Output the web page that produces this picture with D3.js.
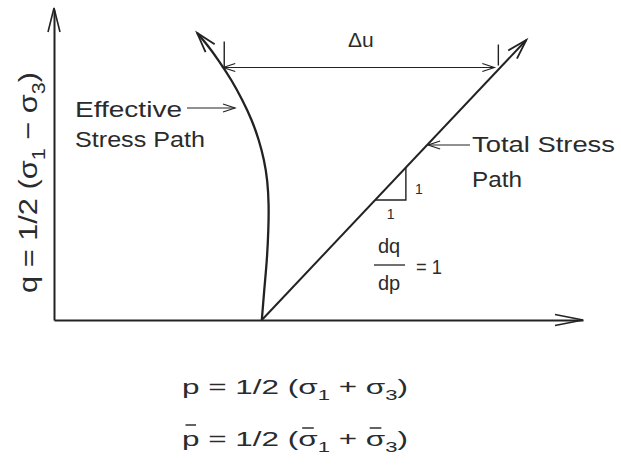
<!DOCTYPE html>
<html>
<head>
<meta charset="utf-8">
<script src="https://cdn.jsdelivr.net/npm/d3@7"></script>
<style>
  html, body { margin: 0; padding: 0; background: #fff; }
  svg { display: block; }
  text { font-family: "Liberation Sans", "DejaVu Sans", sans-serif; fill: #2b2b2b; }
</style>
</head>
<body>
<svg id="chart" width="621" height="465"></svg>
<script>
// Stress paths in p–q space (arbitrary stress units)
const effectiveP = [44.0, 44.5, 45.1, 45.4, 45.5, 45.2, 44.5, 43.4, 41.9, 39.9, 37.6, 34.8, 32.5, 30.3];
const effectiveQ = [0, 6, 12, 18, 23, 28, 32, 36, 40, 44, 48, 52, 55, 57.4];
const totalP = [44, 100];
const totalQ = [0, 56];

// Level at which the pore-pressure change Δu is shown
const deltaUQ = 50.5;

// Slope triangle on the total stress path (dq/dp = 1)
const slopeRun = [68, 74.5];
const slopeRise = [24, 30.5];

// Text
const yLabelParts = ["q = 1/2 (σ", "1", " − σ", "3", ")"];
const pLine = ["p = 1/2 (σ", "1", " + σ", "3", ")"];
const pBarLine = ["p = 1/2 (σ", "1", " + σ", "3", ")"];

const svg = d3.select("#chart");
const ink = "#222";

const x = d3.scaleLinear().domain([0, 112]).range([54, 583]);
const y = d3.scaleLinear().domain([0, 62]).range([320, 10]);

// open V arrow head pointing along angle (radians) at tip
function arrowHead(g, tx, ty, ang, len, hw, sw) {
  const bx = tx - len * Math.cos(ang), by = ty - len * Math.sin(ang);
  const nx = -Math.sin(ang), ny = Math.cos(ang);
  g.append("path")
    .attr("d", `M${bx + nx * hw},${by + ny * hw}L${tx},${ty}L${bx - nx * hw},${by - ny * hw}`)
    .attr("fill", "none").attr("stroke", ink).attr("stroke-width", sw)
    .attr("stroke-linejoin", "miter");
}

// axes
svg.append("g").attr("transform", `translate(0,${y(0)})`)
  .call(d3.axisBottom(x).ticks(0).tickSizeOuter(0));
svg.append("g").attr("transform", `translate(${x(0)},0)`)
  .call(d3.axisLeft(y).ticks(0).tickSizeOuter(0));
svg.selectAll(".domain").attr("stroke", ink).attr("stroke-width", 2);
arrowHead(svg, x(112), y(0), 0, 28, 5.5, 1.6);
arrowHead(svg, x(0), y(62) - 2, -Math.PI / 2, 24, 6, 1.6);

// effective stress path
const effData = effectiveP.map((p, i) => [p, effectiveQ[i]]);
const effPath = svg.append("path")
  .datum(effData)
  .attr("d", d3.line().x(d => x(d[0])).y(d => y(d[1])).curve(d3.curveBasis))
  .attr("fill", "none").attr("stroke", ink).attr("stroke-width", 2.3);
const effNode = effPath.node();
const L = effNode.getTotalLength();
const eEnd = effNode.getPointAtLength(L), ePrev = effNode.getPointAtLength(L - 10);
arrowHead(svg, eEnd.x, eEnd.y, Math.atan2(eEnd.y - ePrev.y, eEnd.x - ePrev.x), 20, 6, 1.8);

// total stress path
const totData = totalP.map((p, i) => [p, totalQ[i]]);
svg.append("path")
  .datum(totData)
  .attr("d", d3.line().x(d => x(d[0])).y(d => y(d[1])))
  .attr("fill", "none").attr("stroke", ink).attr("stroke-width", 2);
const tAng = Math.atan2(y(totalQ[1]) - y(totalQ[0]), x(totalP[1]) - x(totalP[0]));
arrowHead(svg, x(totalP[1]), y(totalQ[1]), tAng, 20, 6, 1.8);

// Δu dimension between the two paths
const yu = y(deltaUQ);
let best = 0, bestD = Infinity;
for (let s = 0; s <= L; s += 0.25) {
  const pt = effNode.getPointAtLength(s);
  const d = Math.abs(pt.y - yu);
  if (d < bestD) { bestD = d; best = pt.x; }
}
const xLeft = best;
const xRight = x(totalP[0] + (deltaUQ - totalQ[0]) * (totalP[1] - totalP[0]) / (totalQ[1] - totalQ[0]));
svg.append("line").attr("x1", xLeft).attr("x2", xRight - 6).attr("y1", yu).attr("y2", yu)
  .attr("stroke", ink).attr("stroke-width", 1.2);
arrowHead(svg, xLeft, yu, Math.PI, 12, 4, 1.2);
arrowHead(svg, xRight - 6, yu, 0, 12, 4, 1.2);
svg.append("line").attr("x1", xLeft + 1).attr("x2", xLeft + 1).attr("y1", yu - 26).attr("y2", yu + 1)
  .attr("stroke", ink).attr("stroke-width", 1.4);
svg.append("line").attr("x1", xRight - 2).attr("x2", xRight - 2).attr("y1", yu - 23).attr("y2", yu - 2)
  .attr("stroke", ink).attr("stroke-width", 1.4);
svg.append("text").attr("x", (xLeft + xRight) / 2 - 1).attr("y", yu - 21)
  .attr("text-anchor", "middle").attr("font-size", 21).text("Δu");

// slope triangle
svg.append("path")
  .attr("d", `M${x(slopeRun[0])},${y(slopeRise[0])}H${x(slopeRun[1])}V${y(slopeRise[1])}`)
  .attr("fill", "none").attr("stroke", ink).attr("stroke-width", 1.4);
svg.append("text").attr("x", x(slopeRun[1]) + 9).attr("y", y((slopeRise[0] + slopeRise[1]) / 2) + 10)
  .attr("font-size", 14).text("1");
svg.append("text").attr("x", x((slopeRun[0] + slopeRun[1]) / 2)).attr("y", y(slopeRise[0]) + 19)
  .attr("text-anchor", "middle").attr("font-size", 14).text("1");

// dq/dp = 1
svg.append("text").attr("x", 389).attr("y", 253).attr("text-anchor", "middle").attr("font-size", 20).text("dq");
svg.append("line").attr("x1", 374).attr("x2", 405).attr("y1", 265).attr("y2", 265)
  .attr("stroke", ink).attr("stroke-width", 1.3);
svg.append("text").attr("x", 389).attr("y", 290).attr("text-anchor", "middle").attr("font-size", 20).text("dp");
svg.append("text").attr("x", 416).attr("y", 274).attr("font-size", 20)
  .attr("textLength", 26).attr("lengthAdjust", "spacingAndGlyphs").text("= 1");

// path labels
svg.append("text").attr("x", 75).attr("y", 117).attr("font-size", 22)
  .attr("textLength", 107).attr("lengthAdjust", "spacingAndGlyphs").text("Effective");
svg.append("text").attr("x", 75).attr("y", 147).attr("font-size", 22)
  .attr("textLength", 130).attr("lengthAdjust", "spacingAndGlyphs").text("Stress Path");
svg.append("line").attr("x1", 187).attr("x2", 235).attr("y1", 108).attr("y2", 108)
  .attr("stroke", ink).attr("stroke-width", 1.2);
arrowHead(svg, 235, 108, 0, 12, 4, 1.2);

svg.append("text").attr("x", 472).attr("y", 152).attr("font-size", 22)
  .attr("textLength", 143).attr("lengthAdjust", "spacingAndGlyphs").text("Total Stress");
svg.append("text").attr("x", 472).attr("y", 187).attr("font-size", 22)
  .attr("textLength", 50).attr("lengthAdjust", "spacingAndGlyphs").text("Path");
const xTotAt = x(totalP[0] + (y.invert(145) - totalQ[0]));
svg.append("line").attr("x1", xTotAt + 1).attr("x2", 470).attr("y1", 145).attr("y2", 145)
  .attr("stroke", ink).attr("stroke-width", 1.2);
arrowHead(svg, xTotAt + 1, 145, Math.PI, 12, 4, 1.2);

// text with subscripts
function subText(sel, parts, size) {
  parts.forEach((t, i) => {
    const sub = i % 2 === 1;
    sel.append("tspan")
      .attr("dy", sub ? size * 0.32 : (i > 0 ? -size * 0.32 : 0))
      .attr("font-size", sub ? size * 0.7 : size)
      .text(t);
  });
  return sel;
}

// y axis title
subText(svg.append("text")
  .attr("transform", "translate(37,293) rotate(-90)")
  .attr("textLength", 221).attr("lengthAdjust", "spacingAndGlyphs"), yLabelParts, 26);

// definitions of p (total) and p-bar (effective)
subText(svg.append("text").attr("x", 182).attr("y", 394)
  .attr("textLength", 226).attr("lengthAdjust", "spacingAndGlyphs"), pLine, 20);
const barText = subText(svg.append("text").attr("x", 182).attr("y", 446)
  .attr("textLength", 226).attr("lengthAdjust", "spacingAndGlyphs"), pBarLine, 20);

// overbars marking effective quantities
const barNode = barText.node();
const fullStr = pBarLine.join("");
[...fullStr].forEach((ch, i) => {
  if (ch === "p" || ch === "σ") {
    const ext = barNode.getExtentOfChar(i);
    const top = ch === "p" ? 425 : 428;
    svg.append("line")
      .attr("x1", ext.x + ext.width * 0.2).attr("x2", ext.x + ext.width * 0.8)
      .attr("y1", top).attr("y2", top)
      .attr("stroke", ink).attr("stroke-width", 1.4);
  }
});
</script>
</body>
</html>
